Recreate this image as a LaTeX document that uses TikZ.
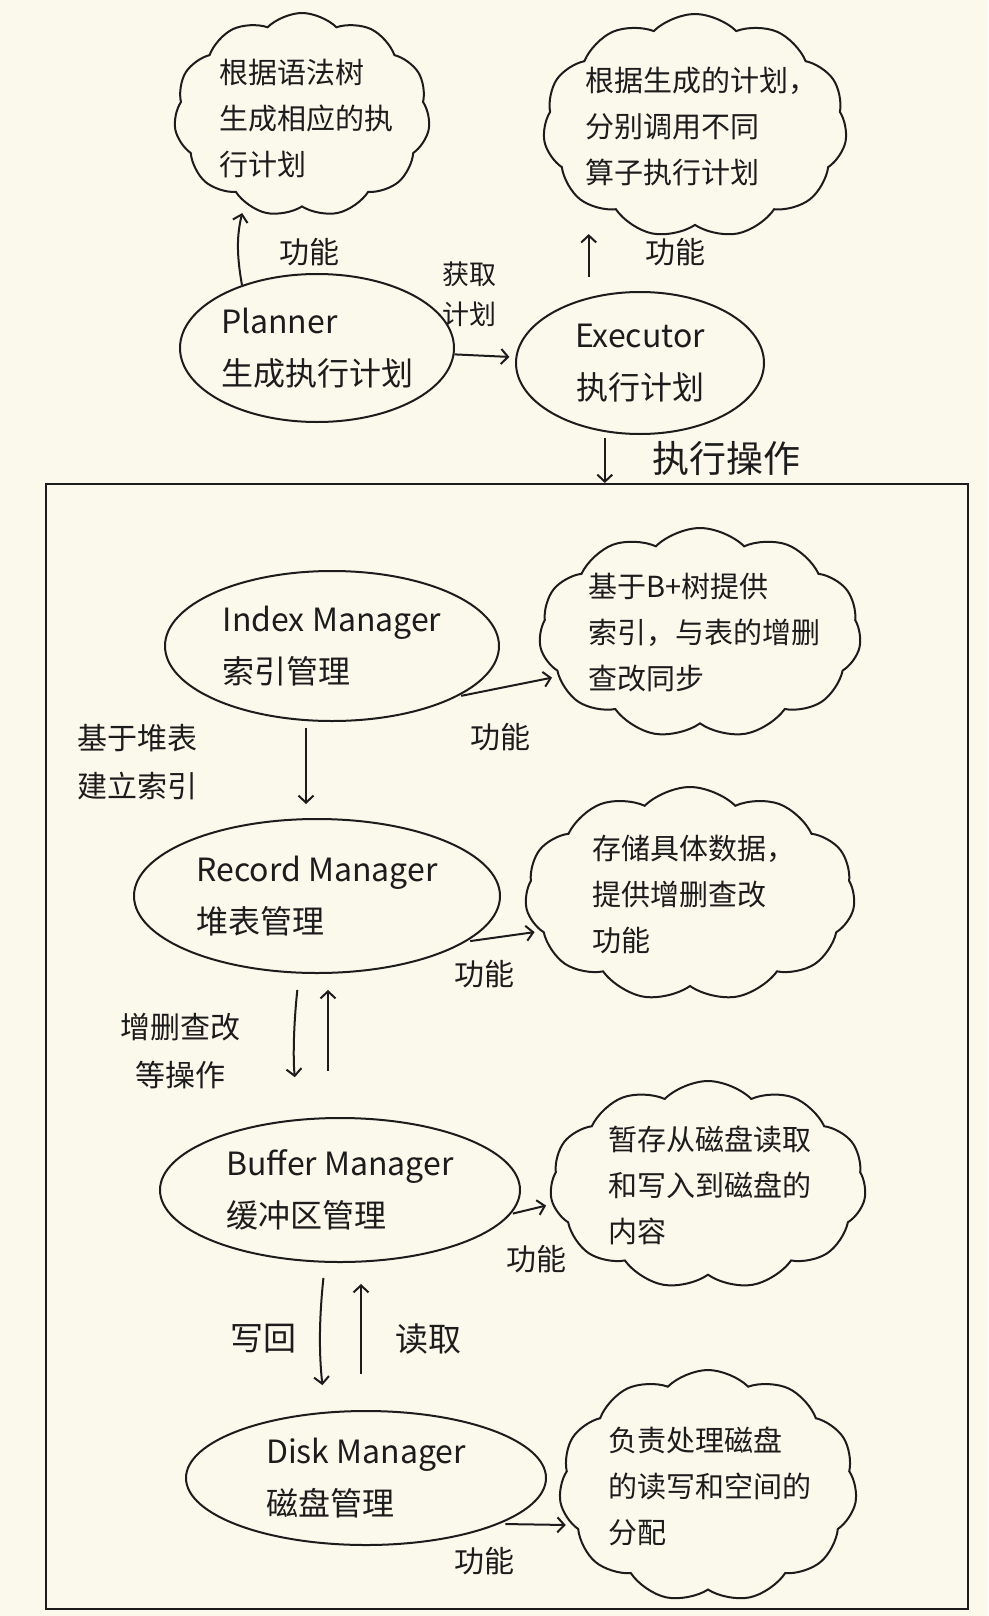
\documentclass[tikz,border=0pt]{standalone}
\usepackage{fontspec}
\setmainfont{Noto Sans CJK SC}
\usetikzlibrary{shapes.symbols,shapes.geometric,arrows.meta}
\definecolor{paper}{RGB}{251,248,236}
\definecolor{ink}{RGB}{28,28,28}

\begin{document}
\begin{tikzpicture}[x=1pt, y=1pt, color=ink, line width=2pt,
    module/.style={draw, ellipse, inner sep=0pt, align=left,
      font=\fontsize{32}{52}\selectfont},
    fncloud/.style={draw, cloud, cloud puffs=11, cloud puff arc=90,
      cloud ignores aspect, inner sep=0pt},
    fntext/.style={align=left, font=\fontsize{29}{46}\selectfont},
    note/.style={align=center, font=\fontsize{30}{48}\selectfont},
    flow/.style={-{Straight Barb[length=7pt, width=15pt]}, line width=2pt},
  ]
    % Paper
    \fill[paper] (0,0) rectangle (988,-1616);
    \useasboundingbox (0,0) rectangle (988,-1616);

    % Planner and executor
    \node[module, minimum width=274pt, minimum height=148pt]
      (planner) at (317,-348) {Planner\\生成执行计划};
    \node[module, align=center, minimum width=248pt, minimum height=142pt]
      (executor) at (640,-363) {Executor\\执行计划};

    \node[fncloud, minimum width=256pt, minimum height=204pt]
      (planfn) at (302,-115) {};
    \node[fntext] (planfntext) at ([xshift=4pt, yshift=-4pt]planfn) {根据语法树\\生成相应的执\\行计划};
    \node[fncloud, minimum width=304pt, minimum height=224pt]
      (execfn) at (695,-126) {};
    \node[fntext] (execfntext) at ([xshift=6pt]execfn) {根据生成的计划，\\分别调用不同\\算子执行计划};

    \draw[flow, shorten >=10pt] (planner.140) to[bend left=12] (planfn.237);
    \node[note] (planfnlbl) at (309,-252) {功能};
    \draw[flow, shorten <=20pt, shorten >=8pt] (executor.128) -- (executor.128 |- execfn.south);
    \node[note] (execfnlbl) at (675,-252) {功能};

    \draw[flow, shorten >=6pt] (planner) -- (executor);
    \node[note, font=\fontsize{27}{40}\selectfont] (getplan) at (469,-294) {获取\\计划};

    % Storage engine
    \node[draw, minimum width=922pt, minimum height=1125pt, inner sep=0pt]
      (engine) at (507,-1046.5) {};
    \draw[flow, shorten <=6pt] (executor.243) -- (executor.243 |- engine.north);
    \node[note, font=\fontsize{37}{48}\selectfont] (execop) at (726,-458) {执行操作};

    \node[module, minimum width=334pt, minimum height=150pt]
      (index) at (332,-646) {Index Manager\\索引管理};
    \node[module, minimum width=366pt, minimum height=154pt]
      (record) at (317,-896) {Record Manager\\堆表管理};
    \node[module, minimum width=360pt, minimum height=144pt]
      (buffer) at (340,-1190) {Buffer Manager\\缓冲区管理};
    \node[module, minimum width=360pt, minimum height=134pt]
      (disk) at (366,-1478) {Disk Manager\\磁盘管理};

    \node[fncloud, minimum width=322pt, minimum height=210pt]
      (indexfn) at (700,-633) {};
    \node[fntext] (indexfntext) at ([xshift=4pt]indexfn) {基于B+树提供\\索引，与表的增删\\查改同步};
    \node[fncloud, minimum width=330pt, minimum height=214pt]
      (recordfn) at (690,-894) {};
    \node[fntext] (recordfntext) at ([xshift=4pt]recordfn) {存储具体数据，\\提供增删查改\\功能};
    \node[fncloud, minimum width=316pt, minimum height=208pt]
      (bufferfn) at (708,-1185) {};
    \node[fntext] (bufferfntext) at ([xshift=2pt]bufferfn) {暂存从磁盘读取\\和写入到磁盘的\\内容};
    \node[fncloud, minimum width=298pt, minimum height=232pt]
      (diskfn) at (708,-1486) {};
    \node[fntext] (diskfntext) at ([xshift=2pt]diskfn) {负责处理磁盘\\的读写和空间的\\分配};

    % Function arrows
    \draw[flow, shorten <=4pt, shorten >=6pt] (index.-22) -- (indexfn.197);
    \node[note] (indexfnlbl) at (500,-737) {功能};
    \draw[flow, shorten <=4pt, shorten >=6pt] (record.-17) -- (recordfn.194);
    \node[note] (recordfnlbl) at (484,-974) {功能};
    \draw[flow, shorten <=2pt, shorten >=6pt] (buffer.-8) -- (bufferfn.187);
    \node[note] (bufferfnlbl) at (536,-1259) {功能};
    \draw[flow, shorten <=6pt, shorten >=6pt] (disk.-19) -- (diskfn.196);
    \node[note] (diskfnlbl) at (484,-1561) {功能};

    % Between the managers
    \draw[flow, shorten <=6pt, shorten >=14pt]
      ([xshift=-26pt]index.south) -- ([xshift=-11pt]record.north);
    \node[note] (heapidx) at (137,-762) {基于堆表\\建立索引};

    \draw[flow, shorten <=16pt, shorten >=40pt]
      ([xshift=-18pt]record.south) to[bend right=6] ([xshift=-41pt]buffer.north);
    \draw[flow, shorten <=46pt, shorten >=16pt]
      ([xshift=-12pt]buffer.north) -- ([xshift=11pt]record.south);
    \node[note] (crud) at (180,-1051) {增删查改\\等操作};

    \draw[flow, shorten <=15pt, shorten >=25pt]
      ([xshift=-15pt]buffer.south) to[bend right=6] ([xshift=-41pt]disk.north);
    \draw[flow, shorten <=36pt, shorten >=21pt]
      ([xshift=-5pt]disk.north) -- ([xshift=21pt]buffer.south);
    \node[note, font=\fontsize{33}{48}\selectfont] (writeback) at (263,-1339) {写回};
    \node[note, font=\fontsize{33}{48}\selectfont] (readin) at (428,-1339) {读取};
  \end{tikzpicture}
\end{document}
